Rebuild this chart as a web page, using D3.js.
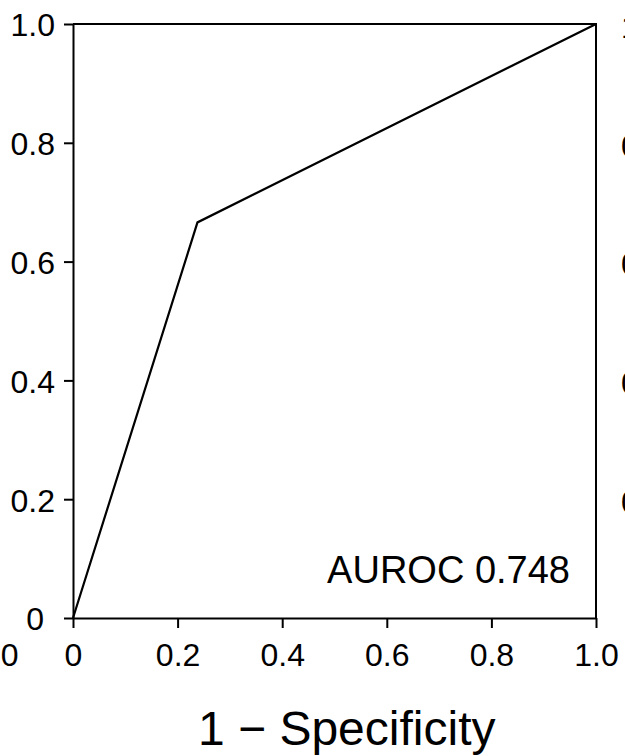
<!DOCTYPE html>
<html>
<head>
<meta charset="utf-8">
<script src="https://cdn.jsdelivr.net/npm/d3@7"></script>
<style>
  html, body { margin: 0; padding: 0; background: #fff; }
  svg { display: block; }
  text { font-family: "Liberation Sans", Arial, Helvetica, sans-serif; fill: #000; }
</style>
</head>
<body>
<svg id="chart" width="625" height="756"></svg>
<script>
// ROC curve points (1 - specificity, sensitivity)
const fpr = [0, 0.238, 1];
const tpr = [0, 0.666, 1];
const xTicks = [0, 0.2, 0.4, 0.6, 0.8, 1.0];
const yTicks = [0, 0.2, 0.4, 0.6, 0.8, 1.0];
const xTickLabels = ["0", "0.2", "0.4", "0.6", "0.8", "1.0"];
const yTickLabels = ["0", "0.2", "0.4", "0.6", "0.8", "1.0"];
const aurocLabel = "AUROC 0.748";
const xTitle = "1 \u2212 Specificity";
// fragments of neighbouring panels cut by the image edges
const neighbourYLabels = ["0.2", "0.4", "0.6", "0.8", "1.0"];
const neighbourXLabel = "1.0";

const svg = d3.select("#chart");
const mLeft = 73, mRight = 596, mTop = 24, mBottom = 618;

const x = d3.scaleLinear().domain([0, 1]).range([mLeft, mRight]);
const y = d3.scaleLinear().domain([0, 1]).range([mBottom, mTop]);

const tickFont = 32;

// frame (top and right)
svg.append("path")
  .attr("d", `M${x(0)},${y(1)}H${x(1)}V${y(0)}`)
  .attr("fill", "none").attr("stroke", "#000").attr("stroke-width", 2);

// x axis
const gx = svg.append("g")
  .attr("transform", `translate(0,${mBottom})`)
  .call(d3.axisBottom(x).tickValues(xTicks)
    .tickFormat((d, i) => xTickLabels[i]).tickSize(10).tickPadding(15).tickSizeOuter(0));
gx.select(".domain").attr("stroke-width", 2);
gx.selectAll(".tick line").attr("stroke-width", 2);
gx.selectAll("text").attr("font-size", tickFont).attr("font-family", null);

// y axis
const gy = svg.append("g")
  .attr("transform", `translate(${mLeft},0)`)
  .call(d3.axisLeft(y).tickValues(yTicks)
    .tickFormat((d, i) => yTickLabels[i]).tickSize(9).tickPadding(9).tickSizeOuter(0));
gy.select(".domain").attr("stroke-width", 2);
gy.selectAll(".tick line").attr("stroke-width", 2);
gy.selectAll("text").attr("font-size", tickFont).attr("font-family", null).attr("dy", "0.37em");
gy.selectAll(".tick").filter(d => d === 0).select("text").attr("dx", -11);

// ROC curve
const line = d3.line().x(d => x(d[0])).y(d => y(d[1]));
svg.append("path")
  .datum(fpr.map((f, i) => [f, tpr[i]]))
  .attr("d", line)
  .attr("fill", "none").attr("stroke", "#000").attr("stroke-width", 2.2)
  .attr("stroke-linejoin", "miter");

// AUROC annotation
svg.append("text")
  .attr("x", 570).attr("y", 583)
  .attr("text-anchor", "end")
  .attr("font-size", 38)
  .text(aurocLabel);

// x title
svg.append("text")
  .attr("x", 198).attr("y", 745)
  .attr("font-size", 48)
  .text(xTitle);

// neighbour fragments
svg.append("text")
  .attr("x", 18.5).attr("y", 666)
  .attr("text-anchor", "end")
  .attr("font-size", tickFont)
  .text(neighbourXLabel);
svg.selectAll(".nbr")
  .data(neighbourYLabels)
  .enter().append("text")
  .attr("class", "nbr")
  .attr("x", 621)
  .attr("y", d => y(+d) + 2)
  .attr("dy", "0.37em")
  .attr("font-size", tickFont)
  .text(d => d);
</script>
</body>
</html>
